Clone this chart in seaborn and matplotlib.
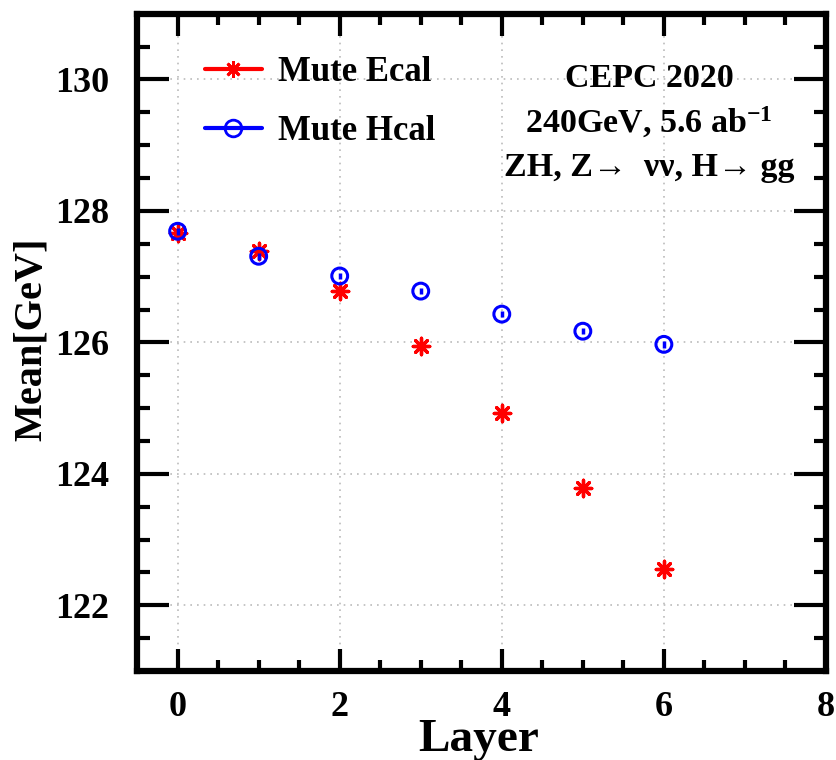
import numpy as np
import pandas as pd
import matplotlib
matplotlib.use("Agg")
import matplotlib.pyplot as plt
from matplotlib.lines import Line2D
from matplotlib.ticker import MultipleLocator
import seaborn as sns

layers = [0, 1, 2, 3, 4, 5, 6]
ecal_mean = [127.66, 127.39, 126.78, 125.94, 124.93, 123.78, 122.55]
ecal_err = [0.05, 0.05, 0.05, 0.05, 0.05, 0.05, 0.05]
hcal_mean = [127.69, 127.31, 127.01, 126.78, 126.43, 126.17, 125.97]
hcal_err = [0.05, 0.05, 0.05, 0.05, 0.05, 0.05, 0.05]
labels = ["Mute Ecal", "Mute Hcal"]
info_lines = ["CEPC 2020", "240GeV, 5.6 ab$^{-1}$", "ZH, Z\u2192  \u03bd\u03bd, H\u2192 gg"]

sns.set_theme(style="white")
plt.rcParams['font.family'] = ['Liberation Serif', 'DejaVu Serif']
plt.rcParams['font.weight'] = 'bold'
plt.rcParams['text.color'] = 'black'
plt.rcParams['axes.labelcolor'] = 'black'
plt.rcParams['xtick.color'] = 'black'
plt.rcParams['ytick.color'] = 'black'
plt.rcParams['mathtext.fontset'] = 'custom'
plt.rcParams['mathtext.rm'] = 'Liberation Serif:bold'
plt.rcParams['mathtext.it'] = 'Liberation Serif:bold'
plt.rcParams['mathtext.bf'] = 'Liberation Serif:bold'
plt.rcParams['mathtext.default'] = 'rm'

df = pd.DataFrame({"layer": layers * 2,
                   "mean": ecal_mean + hcal_mean,
                   "err": ecal_err + hcal_err,
                   "sample": [labels[0]] * len(layers) + [labels[1]] * len(layers)})

fig = plt.figure(figsize=(8.36, 7.6), dpi=100)
ax = fig.add_axes([0.164, 0.117, 0.824, 0.865])

red = "#ff0000"
blue = "#0000ff"
star = (8, 2, 0)

e = df[df["sample"] == labels[0]]
h = df[df["sample"] == labels[1]]
ax.errorbar(e["layer"], e["mean"], yerr=e["err"], fmt="none", ecolor=red, elinewidth=2, zorder=3)
sns.scatterplot(data=e, x="layer", y="mean", marker=star, s=140, color=red,
                linewidth=2.4, edgecolor=red, ax=ax, zorder=4, legend=False)
ax.errorbar(h["layer"], h["mean"], yerr=h["err"], fmt="none", ecolor=blue, elinewidth=2.5, zorder=5)
sns.scatterplot(data=h, x="layer", y="mean", marker="o", s=130, facecolor="none",
                edgecolor=blue, linewidth=2.2, ax=ax, zorder=6, legend=False)

ax.set_xlim(-0.5, 8)
ax.set_ylim(121, 131)
ax.xaxis.set_major_locator(MultipleLocator(2))
ax.xaxis.set_minor_locator(MultipleLocator(0.5))
ax.yaxis.set_major_locator(MultipleLocator(2))
ax.yaxis.set_minor_locator(MultipleLocator(0.5))
ax.tick_params(which="both", direction="in", top=True, right=True, bottom=True, left=True,
               color="black", width=3)
ax.tick_params(which="major", length=23, labelsize=26)
ax.tick_params(axis="y", which="major", pad=20)
ax.tick_params(axis="x", which="major", length=16, pad=14)
ax.tick_params(which="minor", length=9)
ax.tick_params(axis="x", which="minor", length=8)
for lab in ax.get_xticklabels() + ax.get_yticklabels():
    lab.set_fontweight("bold")
for sp in ax.spines.values():
    sp.set_linewidth(4.5)
    sp.set_color("black")
ax.grid(True, which="major", linestyle=(0, (1, 3)), color="#bbbbbb", linewidth=1.2)

ax.set_xlabel("Layer", fontsize=34, fontweight="bold")
ax.set_ylabel("Mean[GeV]", fontsize=29, fontweight="bold")
ax.yaxis.set_label_coords(-0.127, 0.505)
ax.xaxis.set_label_coords(0.496, -0.073)

handles = [Line2D([], [], color=red, marker=star, markersize=12, markeredgewidth=2, linewidth=3),
           Line2D([], [], color=blue, marker="o", markerfacecolor="none", markersize=12,
                  markeredgewidth=2, linewidth=3)]
leg = ax.legend(handles, labels, loc="upper left", bbox_to_anchor=(0.053, 0.983), frameon=False,
                handlelength=1.64, handletextpad=0.46, labelspacing=0.75,
                prop={"weight": "bold", "size": 25})

ys = [0.901, 0.834, 0.766]
for txt, yy in zip(info_lines, ys):
    ax.text(0.743, yy, txt, transform=ax.transAxes, ha="center", va="center",
            fontsize=24.5, fontweight="bold")

fig.savefig("out.png", dpi=100)
